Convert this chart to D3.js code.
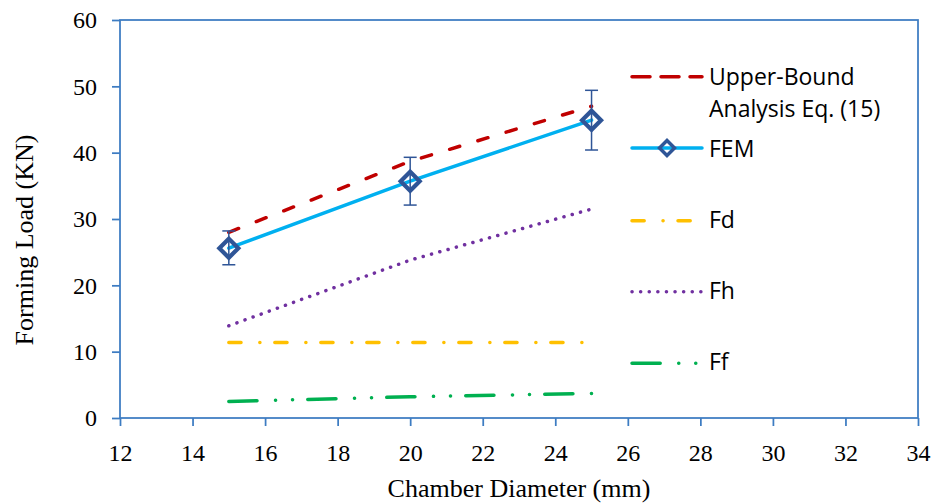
<!DOCTYPE html>
<html>
<head>
<meta charset="utf-8">
<script src="https://cdn.jsdelivr.net/npm/d3@7"></script>
<style>
  html, body { margin: 0; padding: 0; background: #fff; }
  svg { display: block; }
</style>
</head>
<body>
<svg id="chart" width="934" height="504"></svg>
<script>
// Chamber diameter (mm)
const diameters = [15, 20, 25];
// Forming load (KN) per model
const upperBound = [28.0, 38.7, 47.0];
const fem = [25.6, 35.7, 44.9];
const femErrPlus = [2.6, 3.6, 4.5];
const femErrMinus = [2.5, 3.6, 4.5];
const fd = [11.4, 11.4, 11.4];
const fh = [13.9, 23.8, 31.5];
const ff = [2.5, 3.2, 3.7];

const xTicks = [12, 14, 16, 18, 20, 22, 24, 26, 28, 30, 32, 34];
const yTicks = [0, 10, 20, 30, 40, 50, 60];

const svg = d3.select("#chart");
const plot = { left: 120, top: 20, right: 918, bottom: 418 };

const x = d3.scaleLinear().domain([12, 34]).range([plot.left, plot.right]);
const y = d3.scaleLinear().domain([0, 60]).range([plot.bottom, plot.top]);

const axisColor = "#3d7cc2";
const serif = "'Liberation Serif', 'Times New Roman', serif";
const sans = "'Open Sans', 'Noto Sans', sans-serif";

// plot frame
svg.append("rect")
  .attr("x", plot.left).attr("y", plot.top)
  .attr("width", plot.right - plot.left).attr("height", plot.bottom - plot.top)
  .attr("fill", "none").attr("stroke", axisColor).attr("stroke-width", 1.75);

// axes
const gx = svg.append("g")
  .attr("transform", `translate(0,${plot.bottom})`)
  .call(d3.axisBottom(x).tickValues(xTicks).tickSize(8).tickPadding(18).tickFormat(d3.format("d")));
const gy = svg.append("g")
  .attr("transform", `translate(${plot.left},0)`)
  .call(d3.axisLeft(y).tickValues(yTicks).tickSize(8).tickPadding(15).tickFormat(d3.format("d")));

[gx, gy].forEach(g => {
  g.select(".domain").remove();
  g.selectAll(".tick line").attr("stroke", axisColor).attr("stroke-width", 1.75);
  g.selectAll(".tick text").attr("fill", "#000")
    .style("font-family", serif).style("font-size", "24px");
});

// axis titles
svg.append("text")
  .attr("x", (plot.left + plot.right) / 2).attr("y", 497)
  .attr("text-anchor", "middle")
  .style("font-family", serif).style("font-size", "26px").attr("fill", "#000")
  .text("Chamber Diameter (mm)");
svg.append("text")
  .attr("transform", "translate(33,240) rotate(-90)")
  .attr("text-anchor", "middle")
  .style("font-family", serif).style("font-size", "26px").attr("fill", "#000")
  .text("Forming Load (KN)");

const line = d3.line().x(d => x(d[0])).y(d => y(d[1]));
const pts = vals => diameters.map((d, i) => [d, vals[i]]);

const styles = {
  upper: { color: "#c00000", dash: "10.5,19", legendDash: "18,11", width: 3.5 },
  fem:   { color: "#00b0f0", dash: null, width: 3.5 },
  fd:    { color: "#ffc000", dash: "12.2,18.8,0.1,14.9", width: 3.5 },
  fh:    { color: "#7030a0", dash: "0.1,8.5", width: 3.5 },
  ff:    { color: "#00b050", dash: "28.2,18.5,0.1,16.9,0.1,15.2", width: 3.5 }
};

function drawSeries(vals, s) {
  svg.append("path")
    .attr("d", line(pts(vals)))
    .attr("fill", "none")
    .attr("stroke", s.color)
    .attr("stroke-width", s.width)
    .attr("stroke-linecap", "round")
    .attr("stroke-dasharray", s.dash);
}

drawSeries(upperBound, styles.upper);
drawSeries(fem, styles.fem);
drawSeries(fd, styles.fd);
drawSeries(fh, styles.fh);
drawSeries(ff, styles.ff);

// FEM error bars
const errColor = "#2f5597";
const eb = svg.append("g").attr("stroke", errColor).attr("stroke-width", 1.5);
diameters.forEach((d, i) => {
  const cx = x(d);
  const yHi = y(fem[i] + femErrPlus[i]);
  const yLo = y(fem[i] - femErrMinus[i]);
  eb.append("line").attr("x1", cx).attr("x2", cx).attr("y1", yHi).attr("y2", yLo);
  eb.append("line").attr("x1", cx - 6.5).attr("x2", cx + 6.5).attr("y1", yHi).attr("y2", yHi);
  eb.append("line").attr("x1", cx - 6.5).attr("x2", cx + 6.5).attr("y1", yLo).attr("y2", yLo);
});

// FEM diamond markers
function diamond(g, cx, cy, r, sw) {
  g.append("path")
    .attr("d", `M${cx},${cy - r}L${cx + r},${cy}L${cx},${cy + r}L${cx - r},${cy}Z`)
    .attr("fill", "none")
    .attr("stroke", errColor)
    .attr("stroke-width", sw)
    .attr("stroke-linejoin", "miter");
}
const mk = svg.append("g");
diameters.forEach((d, i) => diamond(mk, x(d), y(fem[i]), 9.5, 4.2));

// legend
const legend = svg.append("g");
const lx0 = 632, lx1 = 702, tx = 709;
const legendItems = [
  { s: styles.upper, ly: 76.7, lines: [["Upper-Bound", 85], ["Analysis Eq. (15)", 116.7]], dash: styles.upper.legendDash },
  { s: styles.fem, ly: 148, lines: [["FEM", 157.3]], marker: true },
  { s: styles.fd, ly: 220.7, lines: [["Fd", 228.3]] },
  { s: styles.fh, ly: 291.7, lines: [["Fh", 299.3]] },
  { s: styles.ff, ly: 363.3, lines: [["Ff", 370.3]] }
];
legendItems.forEach(it => {
  legend.append("line")
    .attr("x1", lx0).attr("x2", lx1).attr("y1", it.ly).attr("y2", it.ly)
    .attr("stroke", it.s.color).attr("stroke-width", it.s.width)
    .attr("stroke-linecap", "round")
    .attr("stroke-dasharray", it.dash || it.s.dash);
  if (it.marker) diamond(legend, (lx0 + lx1) / 2, it.ly, 7.5, 3.5);
  it.lines.forEach(([t, by]) => {
    legend.append("text")
      .attr("x", tx).attr("y", by)
      .style("font-family", sans).style("font-size", "23px").attr("fill", "#000")
      .text(t);
  });
});
</script>
</body>
</html>
